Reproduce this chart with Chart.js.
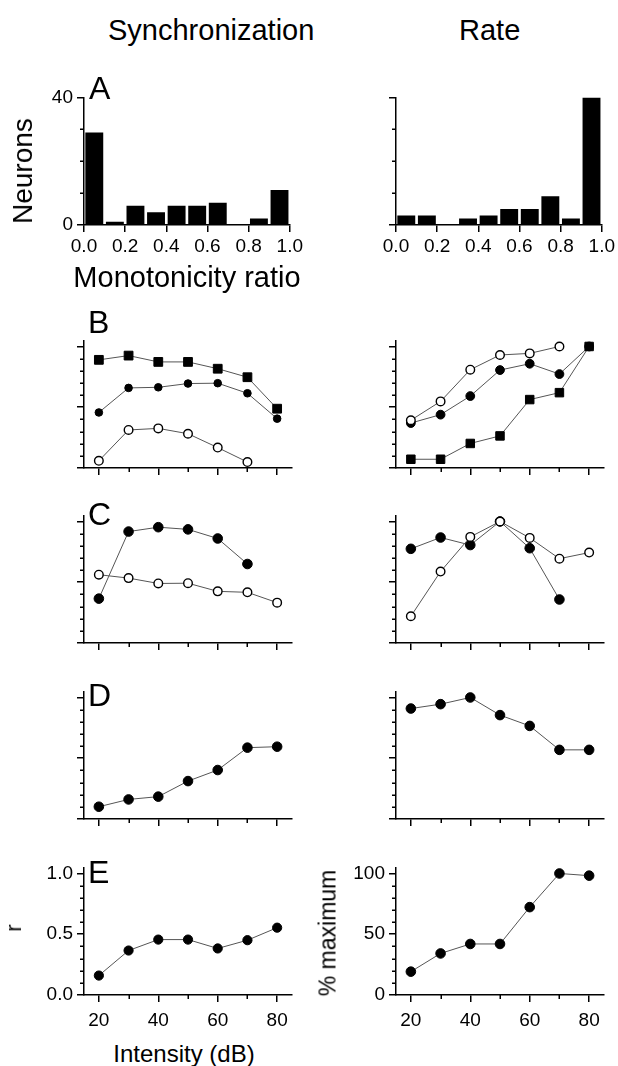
<!DOCTYPE html>
<html>
<head>
<meta charset="utf-8">
<script src="https://cdn.jsdelivr.net/npm/chart.js@4.4.0/dist/chart.umd.min.js"></script>
<style>
  body { margin: 0; background: #fff; overflow: hidden; }
  #fig { position: relative; width: 618px; height: 1066px; font-family: "Liberation Sans", Arial, sans-serif; color: #000; }
  #fig canvas { position: absolute; }
  .txt { position: absolute; white-space: nowrap; line-height: 1; }
</style>
</head>
<body>
<div id="fig"></div>
<script>
// ---- data ----
const ratioBins = [0.05, 0.15, 0.25, 0.35, 0.45, 0.55, 0.65, 0.75, 0.85, 0.95];
const syncCounts = [29, 1, 6, 4, 6, 6, 7, 0, 2, 11];
const rateCounts = [3, 3, 0, 2, 3, 5, 5, 9, 2, 40];

const intensity = [20, 30, 40, 50, 60, 70, 80];

const syncBSquare = [0.89, 0.925, 0.873, 0.873, 0.817, 0.747, 0.488];
const syncBFilled = [0.457, 0.659, 0.664, 0.695, 0.698, 0.615, 0.406];
const syncBOpen = [0.059, 0.313, 0.326, 0.282, 0.168, 0.049, null];
const rateBSquare = [0.072, 0.072, 0.202, 0.264, 0.563, 0.62, 1.0];
const rateBFilled = [0.37, 0.439, 0.592, 0.806, 0.858, 0.773, 1.0];
const rateBOpen = [0.393, 0.548, 0.809, 0.93, 0.943, 1.0, null];

const syncCFilled = [0.365, 0.917, 0.953, 0.935, 0.86, 0.65, null];
const syncCOpen = [0.562, 0.534, 0.49, 0.492, 0.425, 0.417, 0.332];
const rateCFilled = [0.775, 0.868, 0.806, 1.0, 0.78, 0.358, null];
const rateCOpen = [0.22, 0.588, 0.873, 1.0, 0.865, 0.694, 0.744];

const syncD = [0.101, 0.161, 0.184, 0.312, 0.403, 0.587, 0.595];
const rateD = [0.909, 0.945, 1.0, 0.855, 0.766, 0.569, 0.569];

const syncE = [0.16, 0.366, 0.456, 0.456, 0.383, 0.451, 0.554];
const rateE = [19.2, 34.2, 42, 42, 72.3, 100, 98.2];

const ratioTicks = [0, 0.2, 0.4, 0.6, 0.8, 1.0];
const dbMajor = [20, 40, 60, 80];
const dbMinor = [30, 50, 70];
const normMajor = [0, 0.5, 1.0];
const normMinor = [0.1, 0.2, 0.3, 0.4, 0.6, 0.7, 0.8, 0.9];
const pctMajor = [0, 50, 100];
const pctMinor = [10, 20, 30, 40, 60, 70, 80, 90];

// ---- setup ----
const FONT = '"Liberation Sans", Arial, Helvetica, sans-serif';
Chart.defaults.font.family = FONT;
Chart.defaults.color = '#000';
Chart.defaults.animation = false;
Chart.defaults.plugins.legend.display = false;
Chart.defaults.plugins.tooltip.enabled = false;

const PAD_L = 80, PAD_R = 14, PAD_T = 8, PAD_B = 45;
const fig = document.getElementById('fig');

// short ticks between the labelled ones
const minorTicks = {
    id: 'minorTicks',
    afterDraw(chart, args, opts) {
        const ctx = chart.ctx;
        const xs = chart.scales.x, ys = chart.scales.y;
        ctx.save();
        ctx.strokeStyle = '#000';
        ctx.lineWidth = 1.5;
        ctx.beginPath();
        (opts.x || []).forEach(v => {
            const px = Math.round(xs.getPixelForValue(v)) + 0.25;
            ctx.moveTo(px, xs.top);
            ctx.lineTo(px, xs.top + 4);
        });
        (opts.y || []).forEach(v => {
            const py = Math.round(ys.getPixelForValue(v)) + 0.25;
            ctx.moveTo(ys.right - 4, py);
            ctx.lineTo(ys.right, py);
        });
        ctx.stroke();
        ctx.restore();
    }
};

function axis(min, max, majors, labelFn, pad, fitSize, horizontal) {
    return {
        type: 'linear', min: min, max: max, offset: false,
        afterBuildTicks: s => { s.ticks = majors.map(v => ({ value: v })); },
        afterFit: s => { if (horizontal) s.height = fitSize; else s.width = fitSize; },
        ticks: { callback: labelFn, font: { size: 19 }, padding: pad, maxRotation: 0, autoSkip: false, color: '#000' },
        grid: { drawOnChartArea: false, drawTicks: true, tickLength: 7, color: '#000', lineWidth: 1.5, offset: false },
        border: { display: true, color: '#000', width: 1.5 }
    };
}

function makePanel(box, type, datasets, xAxis, yAxis, minors) {
    const c = document.createElement('canvas');
    const w = box.right - box.left + PAD_L + PAD_R;
    const h = box.bottom - box.top + PAD_T + PAD_B;
    c.width = w; c.height = h;
    c.style.width = w + 'px'; c.style.height = h + 'px';
    c.style.left = (box.left - PAD_L) + 'px';
    c.style.top = (box.top - PAD_T) + 'px';
    fig.appendChild(c);
    new Chart(c, {
        type: type,
        data: { datasets: datasets },
        options: {
            responsive: false,
            layout: { padding: { left: 0, right: PAD_R, top: PAD_T, bottom: 0 } },
            scales: { x: xAxis, y: yAxis },
            plugins: { minorTicks: minors }
        },
        plugins: [minorTicks]
    });
}

function bars(counts) {
    return {
        data: ratioBins.map((x, i) => ({ x: x, y: counts[i] })),
        backgroundColor: '#000', borderWidth: 0,
        barPercentage: 0.87, categoryPercentage: 1
    };
}

function series(values, style, radius) {
    const open = style === 'open';
    return {
        data: intensity.map((x, i) => ({ x: x, y: values[i] })),
        borderColor: '#555', borderWidth: 1, tension: 0, clip: false,
        pointStyle: style === 'square' ? 'rect' : 'circle',
        pointRadius: radius,
        pointBackgroundColor: open ? '#fff' : '#000',
        pointBorderColor: '#000',
        pointBorderWidth: open ? 1.4 : 1
    };
}

function addText(str, x, y, size, mode) {
    const d = document.createElement('div');
    d.className = 'txt';
    d.textContent = str;
    d.style.fontSize = size + 'px';
    d.style.left = x + 'px';
    d.style.top = y + 'px';
    if (mode === 'rot') d.style.transform = 'translate(-50%, -50%) rotate(-90deg)';
    if (mode === 'center') d.style.transform = 'translateX(-50%)';
    fig.appendChild(d);
}

const none = () => '';
const cols = [{ left: 84, right: 292 }, { left: 396, right: 604 }];
const rows = { A: [90, 225], B: [333, 468], C: [508, 643], D: [684, 819], E: [860, 995] };
function boxOf(col, row) {
    return { left: cols[col].left, right: cols[col].right, top: rows[row][0], bottom: rows[row][1] };
}

// ---- A: histograms ----
const ratioX = () => axis(0, 1, ratioTicks, v => v.toFixed(1), 3, PAD_B, true);
makePanel(boxOf(0, 'A'), 'bar', [bars(syncCounts)], ratioX(),
    axis(0, 40, [0, 40], v => String(v), 4, PAD_L, false), { y: [10, 20, 30] });
makePanel(boxOf(1, 'A'), 'bar', [bars(rateCounts)], ratioX(),
    axis(0, 40, [0, 40], none, 4, PAD_L, false), { y: [10, 20, 30] });

// ---- B-D: normalised curves ----
const dbX = (labels) => axis(15, 85, dbMajor, labels ? v => String(v) : none, 7, PAD_B, true);
const normY = (labels) => axis(0, 1.05, normMajor, labels ? v => v.toFixed(1) : none, 4, PAD_L, false);
const normMinors = { x: dbMinor, y: normMinor };

makePanel(boxOf(0, 'B'), 'line', [
    series(syncBOpen, 'open', 4.3), series(syncBSquare, 'square', 6.2), series(syncBFilled, 'filled', 3.8)
], dbX(false), normY(false), normMinors);
makePanel(boxOf(1, 'B'), 'line', [
    series(rateBOpen, 'open', 4.3), series(rateBSquare, 'square', 6), series(rateBFilled, 'filled', 4.4)
], dbX(false), normY(false), normMinors);

makePanel(boxOf(0, 'C'), 'line', [
    series(syncCOpen, 'open', 4.3), series(syncCFilled, 'filled', 4.8)
], dbX(false), normY(false), normMinors);
makePanel(boxOf(1, 'C'), 'line', [
    series(rateCOpen, 'open', 4.3), series(rateCFilled, 'filled', 4.8)
], dbX(false), normY(false), normMinors);

makePanel(boxOf(0, 'D'), 'line', [series(syncD, 'filled', 4.8)], dbX(false), normY(false), normMinors);
makePanel(boxOf(1, 'D'), 'line', [series(rateD, 'filled', 4.8)], dbX(false), normY(false), normMinors);

// ---- E ----
makePanel(boxOf(0, 'E'), 'line', [series(syncE, 'filled', 4.6)], dbX(true), normY(true), normMinors);
makePanel(boxOf(1, 'E'), 'line', [series(rateE, 'filled', 4.8)], dbX(true),
    axis(0, 105, pctMajor, v => String(v), 4, PAD_L, false), { x: dbMinor, y: pctMinor });

// ---- text ----
addText('Synchronization', 108, 16, 29);
addText('Rate', 459, 16, 29);
addText('A', 89, 72, 32);
addText('B', 88, 306, 32);
addText('C', 88, 498, 32);
addText('D', 88, 679, 32);
addText('E', 88, 856, 32);
addText('Neurons', 23, 171, 28, 'rot');
addText('Monotonicity ratio', 187, 263, 29, 'center');
addText('r', 14, 928, 22, 'rot');
addText('% maximum', 328, 933, 23, 'rot');
addText('Intensity (dB)', 184, 1042, 24, 'center');
</script>
</body>
</html>
